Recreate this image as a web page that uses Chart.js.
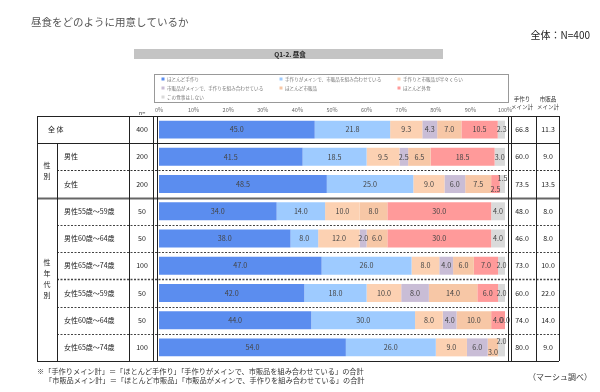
<!DOCTYPE html>
<html>
<head>
<meta charset="utf-8">
<script src="https://cdn.jsdelivr.net/npm/chart.js@4/dist/chart.umd.min.js"></script>
<style>
html, body { margin: 0; padding: 0; background: #fff; }
canvas { display: block; }
</style>
</head>
<body>
<canvas id="lunchChart" width="600" height="392"></canvas>
<script>
const rowLabels = ['全 体', '男性', '女性', '男性55歳～59歳', '男性60歳～64歳', '男性65歳～74歳', '女性55歳～59歳', '女性60歳～64歳', '女性65歳～74歳'];
const counts = [400, 200, 200, 50, 50, 100, 50, 50, 100];
const seriesNames = [
    'ほとんど手作り',
    '手作りがメインで、市販品を組み合わせている',
    '手作りと市販品が半々くらい',
    '市販品がメインで、手作りを組み合わせている',
    'ほとんど市販品',
    'ほとんど外食',
    'この食事はしない'
];
const homemade     = [45.0, 41.5, 48.5, 34.0, 38.0, 47.0, 42.0, 44.0, 54.0];
const homemadeMix  = [21.8, 18.5, 25.0, 14.0,  8.0, 26.0, 18.0, 30.0, 26.0];
const halfHalf     = [ 9.3,  9.5,  9.0, 10.0, 12.0,  8.0, 10.0,  8.0,  9.0];
const storeMix     = [ 4.3,  2.5,  6.0,  0.0,  2.0,  4.0,  8.0,  4.0,  6.0];
const storeBought  = [ 7.0,  6.5,  7.5,  8.0,  6.0,  6.0, 14.0, 10.0,  3.0];
const eatOut       = [10.5, 18.5,  2.5, 30.0, 30.0,  7.0,  6.0,  4.0,  0.0];
const skipMeal     = [ 2.3,  3.0,  1.5,  4.0,  4.0,  2.0,  2.0,  0.0,  2.0];
const homemadeTotal = [66.8, 60.0, 73.5, 48.0, 46.0, 73.0, 60.0, 74.0, 80.0];
const storeTotal    = [11.3,  9.0, 13.5,  8.0,  8.0, 10.0, 22.0, 14.0,  9.0];
const colors = ['#5b8def', '#9ecbff', '#fcd1b2', '#c9bdd6', '#f7c7a6', '#ff9a9a', '#dadada'];

const FONT = '"Noto Sans CJK JP", "Noto Sans", sans-serif';
const series = [homemade, homemadeMix, halfHalf, storeMix, storeBought, eatOut, skipMeal];

// table lines, header texts, legend, footnotes
const tablePlugin = {
    id: 'tableFrame',
    afterDraw(chart) {
        const {ctx, chartArea: a, scales: {y}} = chart;
        const n = rowLabels.length;
        const edge = i => i === 0 ? a.top : i === n ? a.bottom :
            (y.getPixelForValue(i - 1) + y.getPixelForValue(i)) / 2;
        const L = 37, G = 57, N = 129, R1 = a.right + 4, R2 = 536, R3 = 559;

        ctx.save();
        // titles
        ctx.fillStyle = '#555';
        ctx.font = '10.5px ' + FONT;
        ctx.textBaseline = 'middle';
        ctx.textAlign = 'left';
        ctx.fillText('昼食をどのように用意しているか', 31, 22);
        ctx.font = '10px ' + FONT;
        ctx.textAlign = 'right';
        ctx.fillStyle = '#222';
        ctx.fillText('全体：N=400', 590, 35);

        // question bar
        ctx.fillStyle = '#c4c4c4';
        ctx.fillRect(134, 49, 309, 10);
        ctx.fillStyle = '#222';
        ctx.font = 'bold 6.5px ' + FONT;
        ctx.textAlign = 'center';
        ctx.fillText('Q1-2. 昼食', 290, 54.5);

        // legend box
        ctx.strokeStyle = '#999';
        ctx.lineWidth = 1;
        ctx.strokeRect(154.5, 74.5, 354, 28);
        ctx.font = '4.6px ' + FONT;
        ctx.textAlign = 'left';
        const legX = [163, 281, 399], legY = [79, 88, 97];
        seriesNames.forEach((name, i) => {
            const lx = legX[i % 3], ly = legY[Math.floor(i / 3)];
            ctx.fillStyle = colors[i];
            ctx.fillRect(lx - 1.5, ly - 1.5, 3, 3);
            ctx.fillStyle = '#777';
            ctx.fillText(name, lx + 4, ly);
        });

        // column headers
        ctx.fillStyle = '#333';
        ctx.font = '5.5px ' + FONT;
        ctx.textAlign = 'center';
        ctx.fillText('n=', 142, 113);
        ctx.fillText('手作り', 522, 99);
        ctx.fillText('メイン計', 522, 107);
        ctx.fillText('市販品', 548, 99);
        ctx.fillText('メイン計', 548, 107);

        // horizontal lines
        const hline = (yy, x0, dashed, w, col) => {
            ctx.beginPath();
            ctx.setLineDash(dashed ? [2, 1.5] : []);
            ctx.lineWidth = w;
            ctx.strokeStyle = col;
            ctx.moveTo(x0, Math.round(yy) + 0.5);
            ctx.lineTo(R3, Math.round(yy) + 0.5);
            ctx.stroke();
        };
        hline(edge(0), L, false, 1, '#222');
        hline(edge(1), L, false, 1, '#222');
        hline(edge(2), G, true, 1, '#333');
        hline(edge(3), L, false, 2, '#666');
        for (let i = 4; i < n; i++) hline(edge(i), G, true, i === 6 ? 1.6 : 1, '#444');
        hline(edge(n), L, false, 1, '#222');

        // vertical lines
        ctx.setLineDash([]);
        ctx.strokeStyle = '#222';
        ctx.lineWidth = 1;
        const vline = (xx, y0, y1) => {
            ctx.beginPath();
            ctx.moveTo(xx + 0.5, y0);
            ctx.lineTo(xx + 0.5, y1);
            ctx.stroke();
        };
        [L, N, a.left - 6, a.left - 2, R1 - 1, R1 + 2, R2, R3].forEach(xx => vline(xx, edge(0), edge(n)));
        vline(G, edge(1), edge(n));

        // row texts
        ctx.fillStyle = '#222';
        ctx.font = '7px ' + FONT;
        for (let i = 0; i < n; i++) {
            const cy = y.getPixelForValue(i);
            ctx.textAlign = 'left';
            ctx.fillText(rowLabels[i], i === 0 ? 48 : 64, cy);
            ctx.textAlign = 'center';
            ctx.fillText(String(counts[i]), 142, cy);
            ctx.fillText(homemadeTotal[i].toFixed(1), 522, cy);
            ctx.fillText(storeTotal[i].toFixed(1), 548, cy);
        }
        // vertical group labels
        ctx.textAlign = 'center';
        const vtext = (chars, cy, step) => {
            chars.split('').forEach((c, k) => ctx.fillText(c, 47, cy + (k - (chars.length - 1) / 2) * step));
        };
        vtext('性別', (edge(1) + edge(3)) / 2, 11);
        vtext('性年代別', (edge(3) + edge(n)) / 2, 11);

        // footnotes
        ctx.textAlign = 'left';
        ctx.font = '7.2px ' + FONT;
        ctx.fillStyle = '#333';
        ctx.fillText('※「手作りメイン計」＝「ほとんど手作り」「手作りがメインで、市販品を組み合わせている」の合計', 37, 371);
        ctx.fillText('「市販品メイン計」＝「ほとんど市販品」「市販品がメインで、手作りを組み合わせている」の合計', 45, 380);
        ctx.font = '8px ' + FONT;
        ctx.fillText('（マーシュ調べ）', 528, 377);
        ctx.restore();
    }
};

// value labels inside the bar segments
const valuePlugin = {
    id: 'segmentValues',
    afterDatasetsDraw(chart) {
        const {ctx} = chart;
        const last = series.length - 1;
        ctx.save();
        ctx.font = '7.2px ' + FONT;
        ctx.fillStyle = '#444';
        ctx.textAlign = 'center';
        ctx.textBaseline = 'middle';
        rowLabels.forEach((_, r) => {
            const nz = series.map((s, d) => d).filter(d => series[d][r] > 0);
            const a = nz[nz.length - 2], b = nz[nz.length - 1];
            const stagger = series[a][r] < 3.5 && series[b][r] < 3.5;
            series.forEach((s, d) => {
                const v = s[r];
                if (v <= 0 && d !== last) return;
                const el = chart.getDatasetMeta(d).data[r];
                let cy = el.y;
                if (stagger && d === a) cy += 5;
                if (stagger && d === b) cy -= 6;
                ctx.fillText(v.toFixed(1), (el.x + el.base) / 2, cy);
            });
        });
        ctx.restore();
    }
};

new Chart(document.getElementById('lunchChart'), {
    type: 'bar',
    data: {
        labels: rowLabels,
        datasets: series.map((s, i) => ({
            label: seriesNames[i],
            data: s,
            backgroundColor: colors[i],
            borderWidth: 0,
            barPercentage: 0.66,
            categoryPercentage: 1
        }))
    },
    options: {
        indexAxis: 'y',
        responsive: false,
        animation: false,
        layout: {padding: {left: 159, right: 95, top: 106, bottom: 31}},
        scales: {
            x: {
                position: 'top',
                stacked: true,
                min: 0,
                max: 100,
                grid: {display: false, drawTicks: false},
                border: {display: false},
                ticks: {
                    stepSize: 10,
                    padding: 3,
                    color: '#666',
                    font: {size: 5.5, family: FONT},
                    callback: v => v + '%'
                },
                afterFit(scale) { scale.height = 10; }
            },
            y: {
                stacked: true,
                display: false
            }
        },
        plugins: {
            legend: {display: false},
            tooltip: {enabled: false}
        }
    },
    plugins: [tablePlugin, valuePlugin]
});
</script>
</body>
</html>
